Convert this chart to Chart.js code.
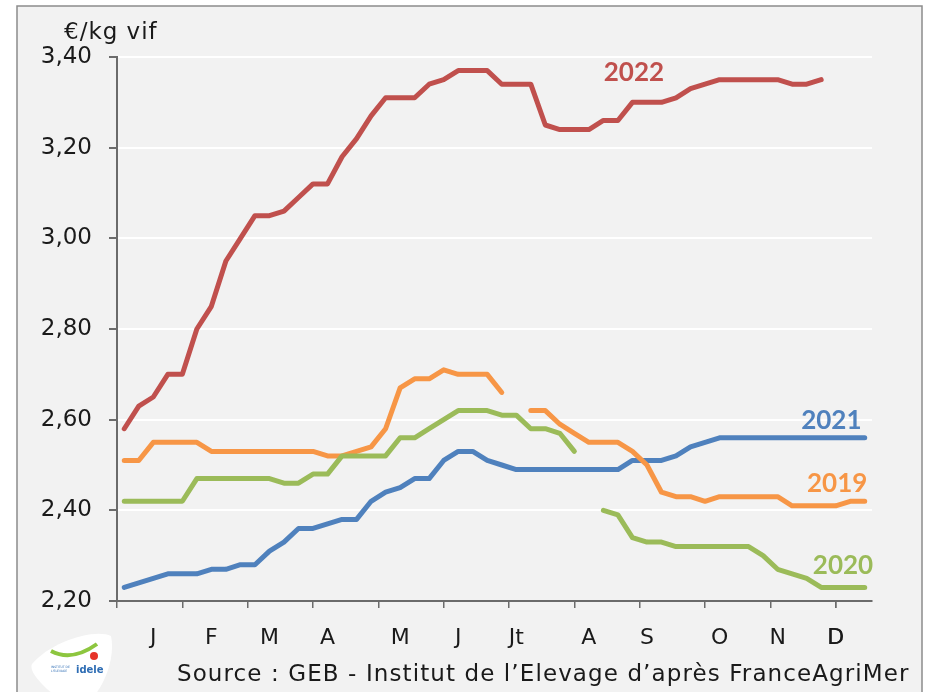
<!DOCTYPE html>
<html>
<head>
<meta charset="utf-8">
<script src="https://cdn.jsdelivr.net/npm/chart.js@4.4.0/dist/chart.umd.min.js"></script>
<style>
  html, body { margin: 0; padding: 0; background: #fff; }
  canvas { display: block; }
</style>
</head>
<body>
<canvas id="prix" width="926" height="692"></canvas>
<script>
// prix hebdomadaires, semaine 1 a 52 (null = pas de cotation)
const prix2019 = [
  2.51, 2.51, 2.55, 2.55, 2.55, 2.55, 2.53, 2.53, 2.53, 2.53,
  2.53, 2.53, 2.53, 2.53, 2.52, 2.52, 2.53, 2.54, 2.58, 2.67,
  2.69, 2.69, 2.71, 2.70, 2.70, 2.70, 2.66, null, 2.62, 2.62,
  2.59, 2.57, 2.55, 2.55, 2.55, 2.53, 2.50, 2.44, 2.43, 2.43,
  2.42, 2.43, 2.43, 2.43, 2.43, 2.43, 2.41, 2.41, 2.41, 2.41,
  2.42, 2.42
];
const prix2020 = [
  2.42, 2.42, 2.42, 2.42, 2.42, 2.47, 2.47, 2.47, 2.47, 2.47,
  2.47, 2.46, 2.46, 2.48, 2.48, 2.52, 2.52, 2.52, 2.52, 2.56,
  2.56, 2.58, 2.60, 2.62, 2.62, 2.62, 2.61, 2.61, 2.58, 2.58,
  2.57, 2.53, null, 2.40, 2.39, 2.34, 2.33, 2.33, 2.32, 2.32,
  2.32, 2.32, 2.32, 2.32, 2.30, 2.27, 2.26, 2.25, 2.23, 2.23,
  2.23, 2.23
];
const prix2021 = [
  2.23, 2.24, 2.25, 2.26, 2.26, 2.26, 2.27, 2.27, 2.28, 2.28,
  2.31, 2.33, 2.36, 2.36, 2.37, 2.38, 2.38, 2.42, 2.44, 2.45,
  2.47, 2.47, 2.51, 2.53, 2.53, 2.51, 2.50, 2.49, 2.49, 2.49,
  2.49, 2.49, 2.49, 2.49, 2.49, 2.51, 2.51, 2.51, 2.52, 2.54,
  2.55, 2.56, 2.56, 2.56, 2.56, 2.56, 2.56, 2.56, 2.56, 2.56,
  2.56, 2.56
];
const prix2022 = [
  2.58, 2.63, 2.65, 2.70, 2.70, 2.80, 2.85, 2.95, 3.00, 3.05,
  3.05, 3.06, 3.09, 3.12, 3.12, 3.18, 3.22, 3.27, 3.31, 3.31,
  3.31, 3.34, 3.35, 3.37, 3.37, 3.37, 3.34, 3.34, 3.34, 3.25,
  3.24, 3.24, 3.24, 3.26, 3.26, 3.30, 3.30, 3.30, 3.31, 3.33,
  3.34, 3.35, 3.35, 3.35, 3.35, 3.35, 3.34, 3.34, 3.35, null,
  null, null
];

const mois = ['J', 'F', 'M', 'A', 'M', 'J', 'Jt', 'A', 'S', 'O', 'N', 'D'];
const moisSemaines = [3, 7, 11, 15, 20, 24, 28, 33, 37, 42, 46, 50];
const reperesSemaines = [0.5, 5, 9.5, 14, 18.5, 23, 27.5, 32, 36.5, 41, 45.5, 50];

const annees = ['2022', '2020', '2019', '2021'];
const couleurs = {
  '2019': '#f79646',
  '2020': '#9bbb59',
  '2021': '#4f81bd',
  '2022': '#c0504d',
};
const series = { '2019': prix2019, '2020': prix2020, '2021': prix2021, '2022': prix2022 };
// ou poser l'etiquette de chaque annee (semaine, prix)
const etiquettes = {
  '2022': [36.1, 3.365],
  '2021': [49.7, 2.597],
  '2019': [50.1, 2.46],
  '2020': [50.5, 2.279],
};

const POLICE = '"DejaVu Sans", sans-serif';

const toPoints = (arr) => arr.map((v, i) => ({ x: i + 1, y: v }));

const cadre = {
  id: 'cadre',
  beforeDraw(chart) {
    const ctx = chart.ctx;
    ctx.save();
    ctx.fillStyle = '#ffffff';
    ctx.fillRect(0, 0, chart.width, chart.height);
    ctx.fillStyle = '#f2f2f2';
    ctx.fillRect(17, 6, 905, 700);
    ctx.strokeStyle = '#8c8c8c';
    ctx.lineWidth = 1.5;
    ctx.beginPath();
    ctx.moveTo(17, 700);
    ctx.lineTo(17, 6);
    ctx.lineTo(922, 6);
    ctx.lineTo(922, 700);
    ctx.stroke();
    ctx.restore();
  },
};

const textes = {
  id: 'textes',
  afterDatasetsDraw(chart) {
    const ctx = chart.ctx;
    const x = chart.scales.x;
    const y = chart.scales.y;
    ctx.save();
    ctx.textBaseline = 'middle';

    ctx.fillStyle = '#1a1a1a';
    ctx.font = '23px ' + POLICE;
    ctx.letterSpacing = '1px';
    ctx.textAlign = 'left';
    ctx.fillText('€/kg vif', 64, 33);

    ctx.letterSpacing = '0px';
    ctx.font = 'bold 26px Lato, sans-serif';
    ctx.textAlign = 'center';
    Object.keys(etiquettes).forEach((an) => {
      const [sem, val] = etiquettes[an];
      ctx.fillStyle = couleurs[an];
      ctx.fillText(an, x.getPixelForValue(sem), y.getPixelForValue(val));
    });

    ctx.fillStyle = '#1a1a1a';
    ctx.font = '23px ' + POLICE;
    ctx.letterSpacing = '1.1px';
    ctx.textAlign = 'left';
    ctx.fillText("Source : GEB - Institut de l\u2019Elevage d\u2019apr\u00e8s FranceAgriMer", 177, 675);
    ctx.letterSpacing = '0px';

    // logo idele, grossierement
    ctx.fillStyle = '#ffffff';
    ctx.beginPath();
    ctx.moveTo(32, 664);
    ctx.bezierCurveTo(50, 642, 95, 628, 111, 636);
    ctx.bezierCurveTo(116, 660, 102, 690, 90, 700);
    ctx.lineTo(60, 700);
    ctx.bezierCurveTo(45, 688, 28, 672, 32, 664);
    ctx.fill();
    ctx.strokeStyle = '#8dc63f';
    ctx.lineWidth = 4;
    ctx.beginPath();
    ctx.moveTo(51, 651);
    ctx.quadraticCurveTo(72, 662, 97, 644);
    ctx.stroke();
    ctx.fillStyle = '#e63329';
    ctx.beginPath();
    ctx.arc(94, 656, 4, 0, Math.PI * 2);
    ctx.fill();
    ctx.fillStyle = '#2e6db4';
    ctx.font = 'bold 10px ' + POLICE;
    ctx.textAlign = 'left';
    ctx.fillText('idele', 76, 670);
    ctx.font = '3px ' + POLICE;
    ctx.fillText('INSTITUT DE', 51, 667);
    ctx.fillText("L'ELEVAGE", 51, 671);
    ctx.restore();
  },
};

new Chart(document.getElementById('prix'), {
  type: 'line',
  data: {
    datasets: annees.map((an) => ({
      label: an,
      data: toPoints(series[an]),
      borderColor: couleurs[an],
      borderWidth: 5,
      borderCapStyle: 'round',
      borderJoinStyle: 'round',
      pointRadius: 0,
      tension: 0,
      spanGaps: false,
    })),
  },
  options: {
    responsive: false,
    animation: false,
    devicePixelRatio: 1,
    layout: { padding: { top: 57, right: 54, left: 0, bottom: 0 } },
    plugins: {
      legend: { display: false },
      tooltip: { enabled: false },
    },
    scales: {
      x: {
        type: 'linear',
        min: 0.5,
        max: 52.5,
        afterFit: (scale) => { scale.height = 91; },
        afterBuildTicks: (scale) => {
          scale.ticks = [...reperesSemaines, ...moisSemaines]
            .sort((a, b) => a - b)
            .map((v) => ({ value: v }));
        },
        border: { color: '#6b6b6b', width: 2 },
        grid: {
          drawOnChartArea: false,
          tickLength: 7,
          lineWidth: 1.5,
          tickColor: (c) => (c.tick && reperesSemaines.includes(c.tick.value)) ? '#6b6b6b' : 'rgba(0,0,0,0)',
        },
        ticks: {
          autoSkip: false,
          maxRotation: 0,
          padding: 17,
          color: '#1a1a1a',
          font: { family: POLICE, size: 22 },
          callback: (v) => {
            const i = moisSemaines.indexOf(v);
            return i >= 0 ? mois[i] : '';
          },
        },
      },
      y: {
        min: 2.2,
        max: 3.4,
        afterFit: (scale) => { scale.width = 117; },
        border: { color: '#6b6b6b', width: 2 },
        grid: {
          color: '#ffffff',
          lineWidth: 2,
          tickColor: '#6b6b6b',
          tickLength: 8,
        },
        ticks: {
          stepSize: 0.2,
          padding: 17,
          color: '#1a1a1a',
          font: { family: POLICE, size: 23 },
          callback: (v) => v.toFixed(2).replace('.', ','),
        },
      },
    },
  },
  plugins: [cadre, textes],
});
</script>
</body>
</html>
